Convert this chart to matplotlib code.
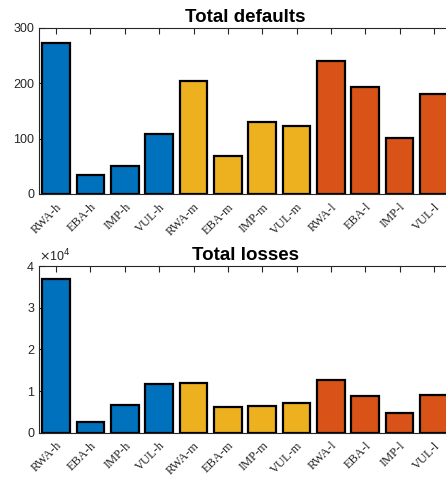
import matplotlib.pyplot as plt
from matplotlib.ticker import FuncFormatter

# donnees
categories = ['RWA-h', 'EBA-h', 'IMP-h', 'VUL-h',
              'RWA-m', 'EBA-m', 'IMP-m', 'VUL-m',
              'RWA-l', 'EBA-l', 'IMP-l', 'VUL-l']
defauts = [272, 34, 50, 108, 205, 69, 130, 123, 240, 194, 102, 180]
pertes = [36900, 2500, 6650, 11800, 12000, 6250, 6500, 7200, 12700, 8900, 4650, 9050]

bleu, jaune, orange = '#0072BD', '#EDB120', '#D95319'
couleurs = [bleu] * 4 + [jaune] * 4 + [orange] * 4
gris = '#262626'


def tracer_barres(ax, valeurs, titre, ymax, yticks):
    x = list(range(1, len(valeurs) + 1))
    ax.bar(x, valeurs, width=0.8, color=couleurs, edgecolor='black', linewidth=1.6, zorder=2)
    ax.set_xlim(0.5, len(valeurs) + 0.5)
    ax.set_ylim(0, ymax)
    ax.set_yticks(yticks)
    ax.set_xticks(x)
    ax.set_xticklabels(categories, rotation=45, ha='right', rotation_mode='anchor',
                       family='Liberation Serif', fontsize=9.5)
    ax.tick_params(direction='in', length=4, width=0.8, color=gris, top=True, right=False,
                   labelsize=9, labelcolor=gris)
    ax.tick_params(axis='x', pad=5)
    for lab in ax.get_yticklabels():
        lab.set_family('Liberation Sans')
    for sp in ax.spines.values():
        sp.set_color(gris)
        sp.set_linewidth(0.8)
    ax.set_title(titre, fontsize=13.5, fontweight='bold', family='Liberation Sans', pad=4.5)


fig = plt.figure(figsize=(4.46, 4.79), dpi=100)
ax1 = fig.add_axes([0.0874, 0.595, 0.924, 0.3466])
ax2 = fig.add_axes([0.0874, 0.0967, 0.924, 0.3474])

tracer_barres(ax1, defauts, 'Total defaults', 300, [0, 100, 200, 300])
tracer_barres(ax2, pertes, 'Total losses', 40000, [0, 10000, 20000, 30000, 40000])
ax2.yaxis.set_major_formatter(FuncFormatter(lambda v, p: f'{v / 1e4:g}'))
for lab in ax2.get_yticklabels():
    lab.set_family('Liberation Sans')
ax2.text(0.0, 1.012, r'$\times$10$^{4}$', transform=ax2.transAxes, fontsize=9,
         color=gris, family='Liberation Sans', va='bottom', ha='left')

fig.savefig('out.png', dpi=100)
